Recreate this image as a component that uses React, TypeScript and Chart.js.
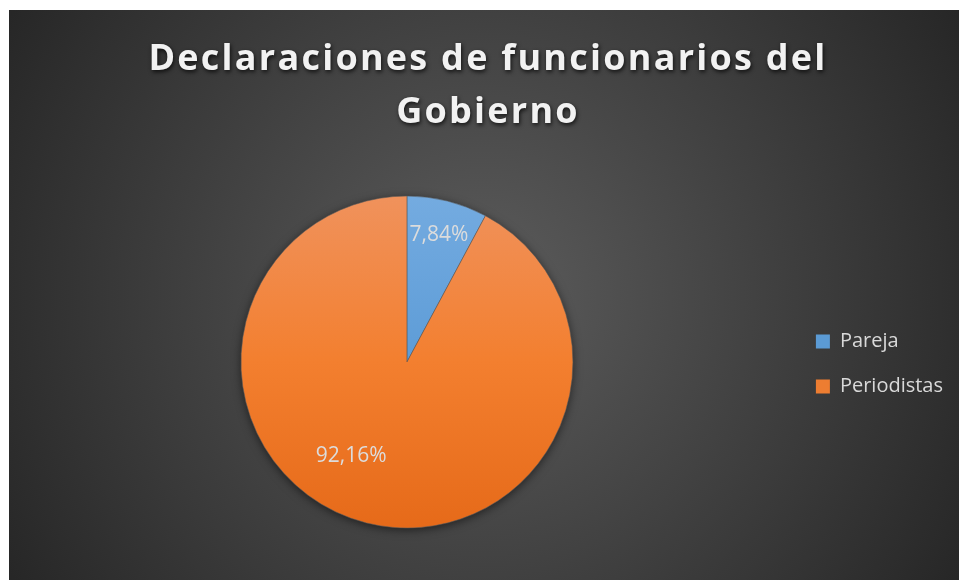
import React, { useEffect, useRef } from "react";
import { Chart, registerables } from "chart.js";

Chart.register(...registerables);

const categories = ["Pareja", "Periodistas"];
const values = [7.84, 92.16];
const titleLines = ["Declaraciones de funcionarios del", "Gobierno"];

const sliceTop = ["#74abe0", "#f0925c"];
const sliceMid = ["#5d9cd7", "#f37f2f"];
const sliceBottom = ["#4a8dcf", "#e66a19"];
const sliceSolid = ["#5b9bd5", "#ed7d31"];
const labelRadius = [0.79, 0.66];
const labelAngleShift = [0, 16.5];

const FONT = "'Open Sans', 'Noto Sans', sans-serif";

export default function App() {
  const ref = useRef<HTMLCanvasElement | null>(null);

  useEffect(() => {
    if (!ref.current) return;

    const pieShadow = {
      id: "pieShadow",
      beforeDatasetsDraw(chart: any) {
        const arc = chart.getDatasetMeta(0).data[0];
        if (!arc) return;
        const { x, y, outerRadius } = arc.getProps(["x", "y", "outerRadius"], true);
        const ctx = chart.ctx;
        ctx.save();
        ctx.shadowColor = "rgba(0,0,0,0.55)";
        ctx.shadowBlur = 10;
        ctx.shadowOffsetY = 2;
        ctx.fillStyle = "#3a3a3a";
        ctx.beginPath();
        ctx.arc(x, y, outerRadius, 0, Math.PI * 2);
        ctx.fill();
        ctx.restore();
      },
    };

    const dataLabels = {
      id: "dataLabels",
      afterDatasetsDraw(chart: any) {
        const ctx = chart.ctx;
        const meta = chart.getDatasetMeta(0);
        ctx.save();
        ctx.font = `21px ${FONT}`;
        ctx.fillStyle = "#dcdcdc";
        ctx.textAlign = "center";
        ctx.textBaseline = "middle";
        meta.data.forEach((arc: any, i: number) => {
          const { x, y, startAngle, endAngle, outerRadius } = arc.getProps(
            ["x", "y", "startAngle", "endAngle", "outerRadius"],
            true
          );
          const mid = (startAngle + endAngle) / 2 + (labelAngleShift[i] * Math.PI) / 180;
          const r = outerRadius * labelRadius[i];
          const txt = values[i].toFixed(2).replace(".", ",") + "%";
          ctx.fillText(txt, x + Math.cos(mid) * r, y + Math.sin(mid) * r);
        });
        ctx.restore();
      },
    };

    const titlePlugin = {
      id: "customTitle",
      afterDraw(chart: any) {
        const ctx = chart.ctx;
        ctx.save();
        ctx.font = `bold 36px ${FONT}`;
        (ctx as any).letterSpacing = "2.25px";
        ctx.textAlign = "center";
        ctx.textBaseline = "alphabetic";
        ctx.fillStyle = "#f2f2f2";
        ctx.shadowColor = "rgba(0,0,0,0.75)";
        ctx.shadowBlur = 4;
        ctx.shadowOffsetX = 1;
        ctx.shadowOffsetY = 2;
        const cx = chart.width / 2 + 4;
        ctx.fillText(titleLines[0], cx, 60);
        ctx.fillText(titleLines[1], cx, 112.5);
        ctx.restore();
      },
    };

    const chart = new Chart(ref.current, {
      type: "pie",
      data: {
        labels: categories,
        datasets: [
          {
            data: values,
            backgroundColor: (c: any) => {
              const i = c.dataIndex ?? 0;
              const area = c.chart.chartArea;
              if (!area) return sliceSolid[i];
              const g = c.chart.ctx.createLinearGradient(0, area.top, 0, area.bottom);
              g.addColorStop(0, sliceTop[i]);
              g.addColorStop(0.5, sliceMid[i]);
              g.addColorStop(1, sliceBottom[i]);
              return g;
            },
            borderColor: "rgba(90,90,90,0.55)",
            borderWidth: 1,
          },
        ],
      },
      options: {
        responsive: false,
        animation: false,
        devicePixelRatio: 1,
        layout: { padding: { top: 185.5, bottom: 51.5, left: 14, right: 6 } },
        plugins: {
          title: { display: false },
          tooltip: { enabled: false },
          legend: {
            display: true,
            position: "right",
            title: {
              display: true,
              text: " ",
              padding: 0,
              font: { family: FONT, size: 3.4, lineHeight: 1.2 },
            },
            labels: {
              color: "#d9d9d9",
              font: { family: FONT, size: 20 },
              boxWidth: 14,
              boxHeight: 14,
              padding: 25,
              generateLabels: (ch: any) => {
                const items = Chart.overrides.pie.plugins.legend.labels.generateLabels(ch);
                return items.map((it: any, i: number) => ({
                  ...it,
                  fillStyle: sliceSolid[i],
                  strokeStyle: sliceSolid[i],
                  lineWidth: 0,
                }));
              },
            },
          },
        },
      },
      plugins: [pieShadow, dataLabels, titlePlugin],
    });

    return () => chart.destroy();
  }, []);

  return (
    <div
      style={{
        position: "absolute",
        left: 9,
        top: 10,
        width: 950,
        height: 570,
        background:
          "radial-gradient(circle at 50% 50%, #5c5c5c 0px, #262626 560px)",
      }}
    >
      <canvas ref={ref} width={950} height={570} style={{ display: "block" }} />
    </div>
  );
}
